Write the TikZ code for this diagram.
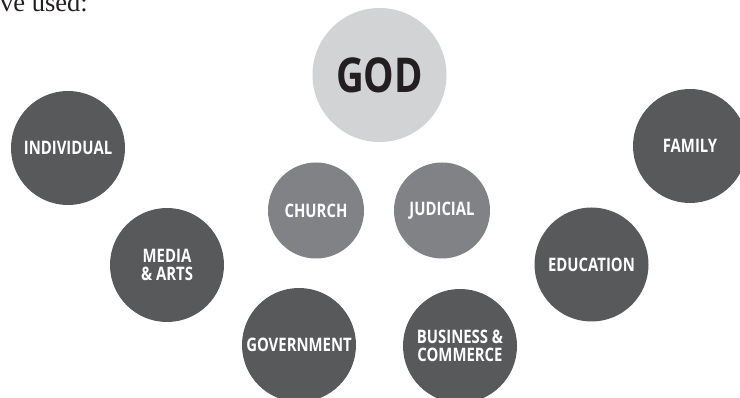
\documentclass[tikz,border=0pt]{standalone}
\usepackage{fontspec}
\newfontfamily\labfont[FakeStretch=0.8]{Open Sans}
\setmainfont{Liberation Serif}
\definecolor{darkc}{HTML}{58595B}
\definecolor{midc}{HTML}{808285}
\definecolor{lightc}{HTML}{D1D3D4}
\definecolor{inkc}{HTML}{231F20}
\begin{document}
\begin{tikzpicture}[x=1pt,y=-1pt,
  ball/.style={circle, inner sep=0pt, fill=darkc, text=white, minimum size=114pt,
    align=center, font=\labfont\bfseries\fontsize{18.6}{17.5}\selectfont},
  smallball/.style={ball, fill=midc, minimum size=96pt},
  godball/.style={circle, inner sep=0pt, fill=lightc, text=inkc, minimum size=134pt,
    font=\labfont\bfseries\fontsize{48}{48}\selectfont},
  intro/.style={anchor=base west, inner sep=0pt, text=inkc, font=\fontsize{26.5}{26.5}\selectfont}]
\useasboundingbox (0,0) rectangle (740,398);
\clip (0,0) rectangle (740,398);
\node[intro] (intro) at (0,12) {ve used:};
\node[godball] (god) at (379.5,75) {GOD};
\node[ball] (individual) at (68,148) {INDIVIDUAL};
\node[ball] (family) at (690,146) {FAMILY};
\node[smallball] (church) at (316,210.5) {CHURCH};
\node[smallball] (judicial) at (442,210.5) {JUDICIAL};
\node[ball] (media) at (167,265) {MEDIA\\[0.5pt]\& ARTS};
\node[ball] (education) at (591.5,264.5) {EDUCATION};
\node[ball] (government) at (299,345) {GOVERNMENT};
\node[ball] (business) at (460,346) {BUSINESS \&\\[0.5pt]COMMERCE};
\end{tikzpicture}
\end{document}
